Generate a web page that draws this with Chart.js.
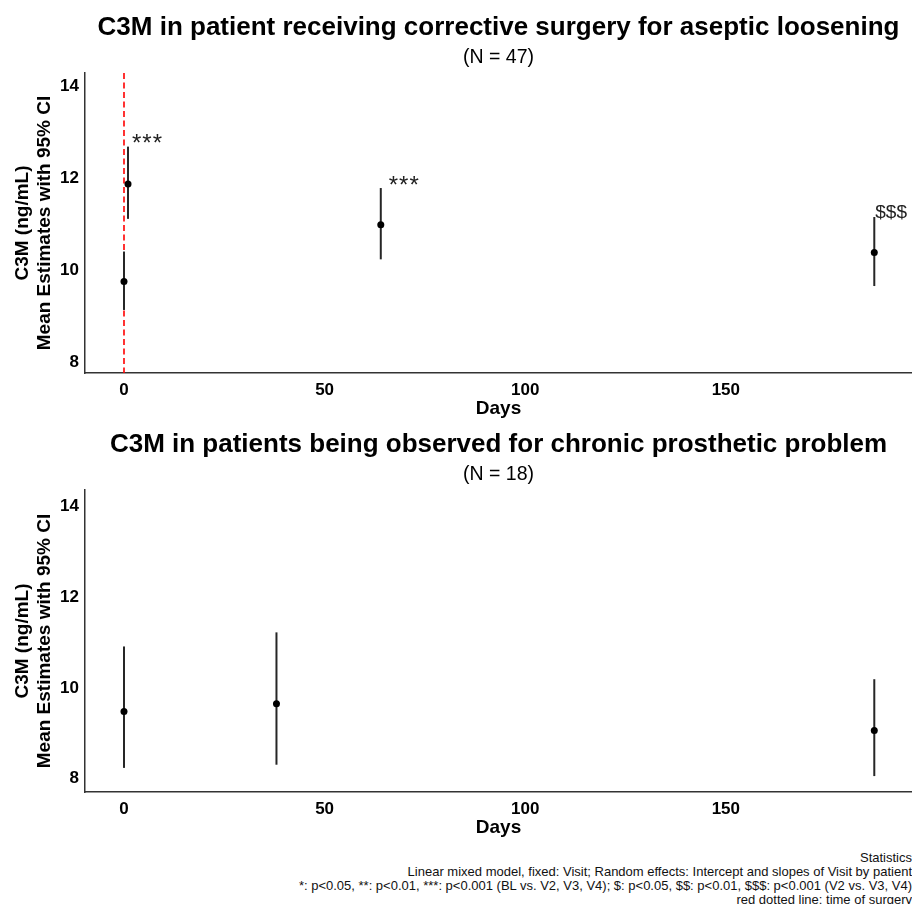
<!DOCTYPE html>
<html>
<head>
<meta charset="utf-8">
<script src="https://cdn.jsdelivr.net/npm/chart.js@4.4.1/dist/chart.umd.min.js"></script>
<style>
  html, body { margin: 0; padding: 0; background: #fff; overflow: hidden; }
  body { width: 912px; height: 904px; position: relative; font-family: 'Liberation Sans', Arial, sans-serif; }
  .panel { position: absolute; left: 0; width: 912px; }
  #top { top: 0; height: 420px; }
  #bottom { top: 417px; height: 422px; }
  #caption {
    position: absolute; right: 0; top: 850.5px;
    text-align: right; font-size: 13px; line-height: 14px;
    color: #111; white-space: nowrap;
  }
</style>
</head>
<body>
<div class="panel" id="top"><canvas id="chartTop"></canvas></div>
<div class="panel" id="bottom"><canvas id="chartBottom"></canvas></div>
<div id="caption">Statistics<br>Linear mixed model, fixed: Visit; Random effects: Intercept and slopes of Visit by patient<br>*: p&lt;0.05, **: p&lt;0.01, ***: p&lt;0.001 (BL vs. V2, V3, V4); $: p&lt;0.05, $$: p&lt;0.01, $$$: p&lt;0.001 (V2 vs. V3, V4)<br>red dotted line: time of surgery</div>

<script>
Chart.defaults.font.family = "'Liberation Sans', Arial, sans-serif";

// axis ticks shared by both panels
const xTicks = [0, 50, 100, 150];
const yTicks = [8, 10, 12, 14];

// patients with corrective surgery (N = 47)
const daysSurgery = [0, 1, 64, 187];
const meanSurgery = [9.75, 11.87, 10.98, 10.38];
const lowSurgery = [9.13, 11.11, 10.23, 9.65];
const highSurgery = [10.40, 12.68, 11.78, 11.15];
const sigSurgery = ['', '***', '***', '$$$'];
const surgeryDay = 0;

// patients being observed (N = 18)
const daysObserved = [0, 38, 187];
const meanObserved = [9.48, 9.65, 9.06];
const lowObserved = [8.24, 8.31, 8.06];
const highObserved = [10.91, 11.22, 10.19];

// red dashed line at time of surgery
function surgeryLinePlugin(day) {
  return {
    id: 'surgeryLine',
    beforeDatasetsDraw(chart) {
      const { ctx, chartArea, scales } = chart;
      const x = scales.x.getPixelForValue(day);
      ctx.save();
      ctx.strokeStyle = '#ff0000';
      ctx.lineWidth = 1.6;
      ctx.setLineDash([6, 3.5]);
      ctx.beginPath();
      ctx.moveTo(x, chartArea.top);
      ctx.lineTo(x, chartArea.bottom);
      ctx.stroke();
      ctx.restore();
    }
  };
}

// significance marks above the CI tops
function sigLabelPlugin(days, high, labels, nudge) {
  return {
    id: 'sigLabels',
    afterDatasetsDraw(chart) {
      const { ctx, scales } = chart;
      ctx.save();
      ctx.fillStyle = '#222';
      ctx.textBaseline = 'alphabetic';
      ctx.textAlign = 'left';
      labels.forEach((txt, i) => {
        if (!txt) return;
        const stars = txt[0] === '*';
        ctx.font = (stars ? '24px' : '19px') + " 'Liberation Sans', Arial, sans-serif";
        ctx.letterSpacing = stars ? '1px' : '0px';
        const x = scales.x.getPixelForValue(days[i]) + nudge[i];
        const y = scales.y.getPixelForValue(high[i]) + (stars ? 4.5 : 1);
        ctx.fillText(txt, x, y);
      });
      ctx.restore();
    }
  };
}

function buildPanel(canvasId, title, subtitle, days, mean, low, high, yRange, plugins) {
  const datasets = [{
    type: 'scatter',
    data: days.map((d, i) => ({ x: d, y: mean[i] })),
    pointRadius: 3.5,
    pointBackgroundColor: '#000',
    pointBorderWidth: 0,
    showLine: false
  }];
  // one vertical segment per CI
  days.forEach((d, i) => {
    datasets.push({
      type: 'line',
      data: [{ x: d, y: low[i] }, { x: d, y: high[i] }],
      borderColor: '#262626',
      borderWidth: 2,
      pointRadius: 0
    });
  });

  return new Chart(document.getElementById(canvasId), {
    type: 'scatter',
    data: { datasets },
    plugins: plugins,
    options: {
      responsive: true,
      maintainAspectRatio: false,
      animation: false,
      layout: { padding: 0, autoPadding: false },
      plugins: {
        legend: { display: false },
        tooltip: { enabled: false },
        title: {
          display: true, text: title, color: '#000', fullSize: false,
          font: { size: 26, weight: 'bold', lineHeight: 1.2 },
          padding: { top: 12, bottom: 0 }
        },
        subtitle: {
          display: true, text: subtitle, color: '#000', fullSize: false,
          font: { size: 19.5, weight: 'normal', lineHeight: 1.2 },
          padding: { top: 2.5, bottom: 3.9 }
        }
      },
      scales: {
        x: {
          type: 'linear',
          min: -9.72,
          max: 196.4,
          afterBuildTicks: s => { s.ticks = xTicks.map(v => ({ value: v })); },
          afterFit: s => { s.height = 47; },
          grid: { display: false, drawTicks: false },
          border: { display: true, color: '#333', width: 1.5 },
          ticks: { color: '#000', font: { size: 17, weight: 'bold' }, padding: 7, maxRotation: 0 },
          title: {
            display: true, text: 'Days', color: '#000',
            font: { size: 19, weight: 'bold' },
            padding: { top: 0, bottom: 0 }
          }
        },
        y: {
          min: yRange[0],
          max: yRange[1],
          afterBuildTicks: s => { s.ticks = yTicks.map(v => ({ value: v })); },
          afterFit: s => { s.width = 85; },
          grid: { display: false, drawTicks: false },
          border: { display: true, color: '#333', width: 1.5 },
          ticks: { color: '#000', font: { size: 17, weight: 'bold' }, padding: 6 },
          title: {
            display: true,
            text: ['C3M (ng/mL)', 'Mean Estimates with 95% CI'],
            color: '#000',
            font: { size: 19, weight: 'bold', lineHeight: 22 / 19 },
            padding: { top: 11.5, bottom: 0 }
          }
        }
      }
    }
  });
}

buildPanel('chartTop',
  'C3M in patient receiving corrective surgery for aseptic loosening', '(N = 47)',
  daysSurgery, meanSurgery, lowSurgery, highSurgery, [7.76, 14.28],
  [surgeryLinePlugin(surgeryDay), sigLabelPlugin(daysSurgery, highSurgery, sigSurgery, [0, 4, 8, 1])]);

buildPanel('chartBottom',
  'C3M in patients being observed for chronic prosthetic problem', '(N = 18)',
  daysObserved, meanObserved, lowObserved, highObserved, [7.71, 14.35], []);
</script>
</body>
</html>
